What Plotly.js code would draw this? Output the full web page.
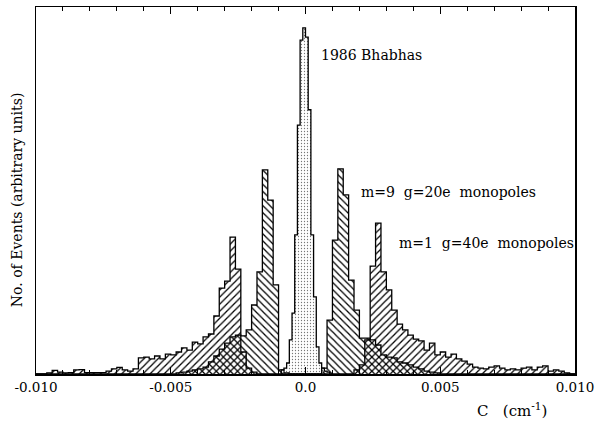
<!DOCTYPE html>
<html>
<head>
<meta charset="utf-8">
<script src="https://cdn.plot.ly/plotly-3.0.1.min.js"></script>
<style>html,body{margin:0;padding:0;background:#fff;}#chart{width:595px;height:424px;}</style>
</head>
<body>
<div id="chart"></div>
<script>
// Monopole histograms: 100 bins of width 0.0002 from -0.010 to 0.010
const monoStart = -0.010;
const monoWidth = 0.0002;
const m1Counts = [
  0,0,0.3,1.0,0.5,0.3,0.4,1.1,1.2,0.4,
  0.4,0.4,0.4,0.8,1.4,1.8,1.1,0.8,1.4,4.4,
  4.6,4.1,4.9,4.1,5.4,5.2,6.0,7.1,6.5,8.7,
  8.2,10.1,10.9,15.8,23.4,25.3,37.3,28.6,6.0,1.6,
  0.5,0,0,0,0,0,0,0,0,0,
  0,0,0,0,0,0,0,0,0,1.1,
  2.5,9.3,29.4,41.1,27.8,22.9,17.4,13.6,12.0,10.6,
  9.5,9.0,6.5,8.4,5.2,6.0,4.6,5.4,4.1,3.5,
  2.7,1.9,1.6,1.4,1.9,2.2,1.6,1.1,1.4,1.1,
  1.6,1.9,1.1,1.9,2.2,0.8,1.1,0.8,0.3,0
];
const m9Counts = [
  0,0,0,0,0,0,0,0,0,0,
  0,0,0,0,0,0,0,0,0,0,
  0,0,0,0,0,0,0.3,0.5,0.8,1.1,
  1.4,1.9,3.3,4.9,6.8,8.4,10.1,10.6,10.4,12.0,
  18.8,27.8,55.6,47.4,24.3,1.1,0.3,0,0,0,
  0,0,0,1.6,14.7,36.5,55.9,48.8,25.6,17.4,
  9.8,9.8,9.3,7.9,5.2,4.6,4.4,3.3,3.0,2.5,
  1.9,1.4,0.8,0.5,0.3,0,0,0,0,0,
  0,0,0,0,0,0,0,0,0,0,
  0,0,0,0,0,0,0,0,0,0
];
// Bhabha histogram: bins of width 0.0001 starting at -0.0009
const bhabhaStart = -0.0009;
const bhabhaWidth = 0.0001;
const bhabhaCounts = [1.1,1.6,3.0,9.3,16.6,37.9,67.8,91.0,94.3,91.8,72.0,37.9,21.0,7.4,3.0,1.6,0.8,0.5];

const tickVals = [-0.010,-0.005,0.0,0.005,0.010];
const tickText = ['-0.010','-0.005','0.0','0.005','0.010'];

function stepXY(start, width, counts) {
  const x = [start], y = [0];
  for (let i = 0; i < counts.length; i++) { x.push(start + i*width); y.push(counts[i]); }
  const end = start + counts.length*width;
  x.push(end); y.push(counts[counts.length-1]);
  x.push(end); y.push(0);
  return {x, y};
}

function hist(start, width, counts, shape, size, sol, fg) {
  const s = stepXY(start, width, counts);
  return {
    type: 'scatter', mode: 'lines', x: s.x, y: s.y,
    line: {shape: 'hv', color: '#000', width: 1.3},
    fill: 'tozeroy', fillcolor: 'rgba(0,0,0,0)',
    fillpattern: {shape: shape, size: size, solidity: sol, fgcolor: fg, bgcolor: 'rgba(0,0,0,0)', fillmode: 'replace'},
    hoverinfo: 'skip', showlegend: false
  };
}

const traces = [
  hist(monoStart, monoWidth, m1Counts, '/', 5, 0.25, '#000'),
  hist(monoStart, monoWidth, m9Counts, '\\', 5, 0.25, '#000'),
  hist(bhabhaStart, bhabhaWidth, bhabhaCounts, '.', 3, 0.15, '#777')
];

const font = {family: '"DejaVu Serif", "Liberation Serif", serif', color: '#000'};

const layout = {
  width: 595, height: 424,
  margin: {l: 36, r: 20, t: 7, b: 50},
  paper_bgcolor: '#fff', plot_bgcolor: '#fff',
  font: Object.assign({size: 14}, font),
  xaxis: {
    range: [-0.0100002, 0.0100002], tickvals: tickVals, ticktext: tickText,
    ticks: 'inside', ticklen: 7, tickwidth: 1, tickcolor: '#000',
    ticklabeloverflow: 'allow',
    minor: {dtick: 0.001, ticks: 'inside', ticklen: 4, tickcolor: '#000'},
    showline: true, linecolor: '#000', linewidth: 1.5, mirror: 'ticks',
    showgrid: false, zeroline: false,
    tickfont: Object.assign({size: 13.5}, font)
  },
  yaxis: {
    range: [0, 100], showticklabels: false, ticks: '',
    showline: true, linecolor: '#000', linewidth: 1.5, mirror: true,
    showgrid: false, zeroline: false
  },
  annotations: [
    {text: '1986 Bhabhas', x: 0.00051, y: 86.9, xref: 'x', yref: 'y', xanchor: 'left', yanchor: 'middle', showarrow: false, font: Object.assign({size: 14}, font)},
    {text: 'm=9\u00a0 g=20e\u00a0 monopoles', x: 0.00199, y: 49.6, xref: 'x', yref: 'y', xanchor: 'left', yanchor: 'middle', showarrow: false, font: Object.assign({size: 14}, font)},
    {text: 'm=1\u00a0 g=40e\u00a0 monopoles', x: 0.0034, y: 35.7, xref: 'x', yref: 'y', xanchor: 'left', yanchor: 'middle', showarrow: false, font: Object.assign({size: 14}, font)},
    {text: 'C\u00a0\u00a0 (cm<sup>-1</sup>)', x: 0.884, y: -0.098, xref: 'paper', yref: 'paper', xanchor: 'center', yanchor: 'middle', showarrow: false, font: Object.assign({size: 15}, font)},
    {text: 'No. of Events (arbitrary units)', x: -0.035, y: 0.474, xref: 'paper', yref: 'paper', xanchor: 'center', yanchor: 'middle', textangle: -90, showarrow: false, font: Object.assign({size: 14}, font)}
  ]
};

Plotly.newPlot('chart', traces, layout, {staticPlot: true, displayModeBar: false});
</script>
</body>
</html>
